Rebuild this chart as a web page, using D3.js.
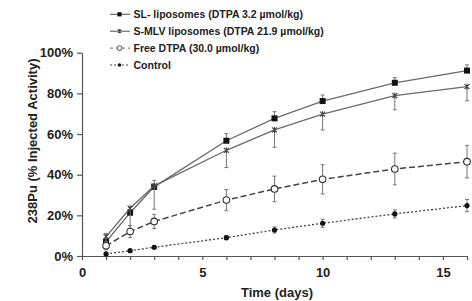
<!DOCTYPE html>
<html><head><meta charset="utf-8">
<script src="https://cdn.jsdelivr.net/npm/d3@7"></script>
<style>
body{margin:0;background:#fff;}
svg{display:block;font-family:"Liberation Sans",Arial,sans-serif;font-weight:bold;}
</style></head>
<body><svg id="c" width="472" height="301"></svg>
<script>
const days = [1, 2, 3, 6, 8, 10, 13, 16];
const slValues = [7.0, 21.3, 34.0, 56.7, 67.7, 76.2, 85.2, 91.2];
const slErr = [4.0, 2.5, 3.2, 3.5, 3.3, 3.0, 2.5, 2.8];
const smlvValues = [9.5, 23.5, 34.5, 52.0, 62.0, 69.8, 78.9, 83.3];
const smlvErr = [3.0, 12.5, 11.5, 8.5, 8.5, 7.8, 7.0, 7.0];
const freeValues = [5.0, 12.0, 17.0, 27.5, 33.0, 37.7, 42.8, 46.4];
const freeErr = [2.0, 3.0, 3.5, 5.2, 6.3, 7.2, 7.8, 8.0];
const controlValues = [1.0, 2.6, 4.3, 9.0, 12.8, 16.1, 20.7, 24.8];
const controlErr = [0.5, 0.6, 0.7, 1.0, 1.5, 2.0, 2.0, 3.0];
const seriesNames = ["SL- liposomes (DTPA 3.2 \u00b5mol/kg)", "S-MLV liposomes (DTPA 21.9 \u00b5mol/kg)", "Free DTPA (30.0 \u00b5mol/kg)", "Control"];
const yTicks = [0, 20, 40, 60, 80, 100];
const xTickLabels = [0, 5, 10, 15];

const svg = d3.select("#c");
const x = d3.scaleLinear().domain([0, 16]).range([82, 467]);
const y = d3.scaleLinear().domain([0, 100]).range([256, 52.7]);
const axisCol = "#555", lineCol = "#6a6a6a", txt = "#222";

const series = [
  {name: seriesNames[0], v: slValues, e: slErr, dir: "up", dash: null, marker: "square"},
  {name: seriesNames[1], v: smlvValues, e: smlvErr, dir: "down", dash: null, marker: "x"},
  {name: seriesNames[2], v: freeValues, e: freeErr, dir: "both", dash: "6,3", marker: "open"},
  {name: seriesNames[3], v: controlValues, e: controlErr, dir: "both", dash: "2,2", marker: "dot"}
];

// axes
const yAxis = d3.axisLeft(y).tickValues(yTicks).tickFormat(d => d + "%").tickSize(5).tickSizeOuter(0).tickPadding(4);
const gy = svg.append("g").attr("transform", `translate(${x(0)},0)`).call(yAxis);
const xAxis = d3.axisBottom(x).tickValues(d3.range(0, 17)).tickFormat(d => xTickLabels.includes(d) ? d : "").tickSize(4).tickSizeOuter(0).tickPadding(8);
const gx = svg.append("g").attr("transform", `translate(0,${y(0)})`).call(xAxis);
[gx, gy].forEach(g => {
  g.selectAll("path, line").attr("stroke", axisCol).attr("stroke-width", 1.2);
  g.selectAll("text").attr("fill", txt).attr("font-size", 13).attr("font-family", "Liberation Sans, Arial, sans-serif").attr("font-weight", "bold");
});

svg.append("text").attr("x", 277).attr("y", 297).attr("text-anchor", "middle").attr("font-size", 13).attr("fill", txt).text("Time (days)");
svg.append("text").attr("transform", "translate(36.5,141) rotate(-90)").attr("text-anchor", "middle").attr("font-size", 13).attr("fill", txt).text("238Pu (% Injected Activity)");

function drawMarker(g, type, cx, cy, k) {
  k = k || 1;
  if (type === "square") g.append("rect").attr("x", cx - 3 * k).attr("y", cy - 3 * k).attr("width", 6 * k).attr("height", 6 * k).attr("fill", "#111");
  else if (type === "x") {
    const a = 2.5 * k, b = 3 * k;
    g.append("path").attr("d", `M${cx-a},${cy-a}L${cx+a},${cy+a}M${cx-a},${cy+a}L${cx+a},${cy-a}M${cx},${cy-b}L${cx},${cy+b}`).attr("stroke", "#444").attr("stroke-width", 1.1).attr("fill", "none");
  } else if (type === "open") g.append("circle").attr("cx", cx).attr("cy", cy).attr("r", 3.3 * k).attr("fill", "#fff").attr("stroke", k < 1 ? "#777" : "#333").attr("stroke-width", 1.1);
  else g.append("circle").attr("cx", cx).attr("cy", cy).attr("r", 2.6 * k).attr("fill", "#111");
}

const line = d3.line().x(d => x(d[0])).y(d => y(d[1]));
series.forEach(s => {
  const g = svg.append("g");
  const pts = days.map((d, i) => [d, s.v[i]]);
  // error bars
  days.forEach((d, i) => {
    const lo = s.dir === "up" ? s.v[i] : s.v[i] - s.e[i];
    const hi = s.dir === "down" ? s.v[i] : s.v[i] + s.e[i];
    g.append("line").attr("x1", x(d)).attr("x2", x(d)).attr("y1", y(lo)).attr("y2", y(hi)).attr("stroke", "#777").attr("stroke-width", 1);
    if (s.dir !== "down") g.append("line").attr("x1", x(d) - 2).attr("x2", x(d) + 2).attr("y1", y(hi)).attr("y2", y(hi)).attr("stroke", "#777");
    if (s.dir !== "up") g.append("line").attr("x1", x(d) - 2).attr("x2", x(d) + 2).attr("y1", y(lo)).attr("y2", y(lo)).attr("stroke", "#777");
  });
  g.append("path").attr("d", line(pts)).attr("fill", "none").attr("stroke", s.marker === "open" || s.marker === "dot" ? "#444" : lineCol).attr("stroke-width", s.marker === "open" ? 1.5 : 1.3).attr("stroke-dasharray", s.dash);
  pts.forEach(p => drawMarker(g, s.marker, x(p[0]), y(p[1])));
});

// legend
const lg = svg.append("g");
series.forEach((s, i) => {
  const yy = 14.3 + i * 16.9;
  lg.append("line").attr("x1", 110).attr("x2", 130).attr("y1", yy).attr("y2", yy).attr("stroke", s.marker === "open" ? "#888" : (s.marker === "dot" ? "#444" : lineCol)).attr("stroke-width", 1.2).attr("stroke-dasharray", s.marker === "open" ? "3,3" : s.dash);
  drawMarker(lg, s.marker, 119.5, yy, 0.7);
  lg.append("text").attr("x", 133.5).attr("y", yy + 4).attr("font-size", 10.5).attr("fill", txt).text(s.name);
});
</script></body></html>
